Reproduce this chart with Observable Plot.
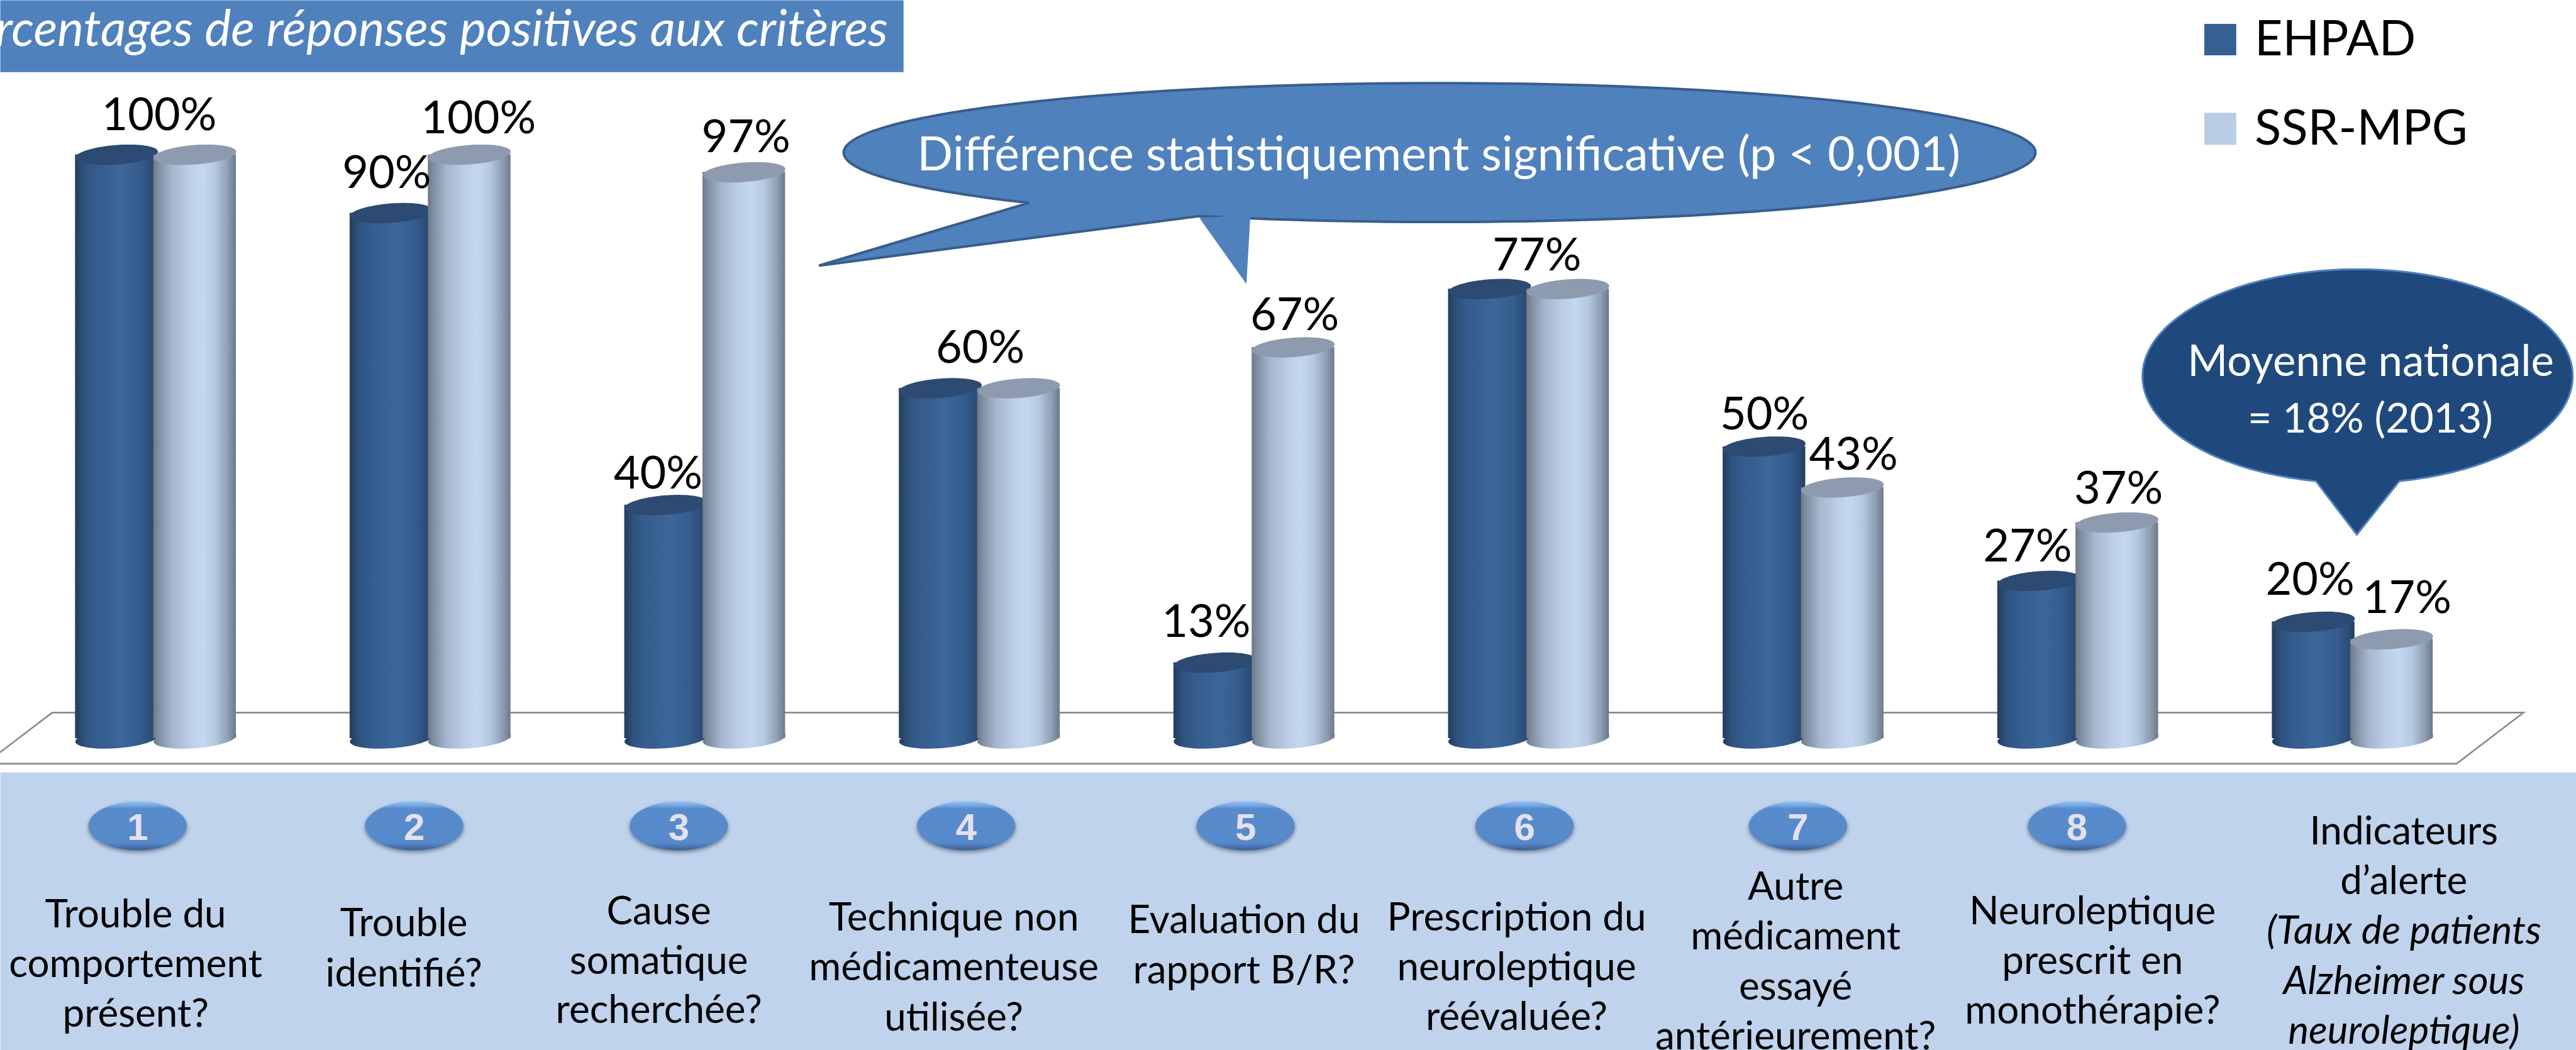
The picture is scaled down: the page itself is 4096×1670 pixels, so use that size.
<!DOCTYPE html>
<html lang="fr"><head><meta charset="utf-8">
<script src="https://cdn.jsdelivr.net/npm/d3@7"></script>
<script src="https://cdn.jsdelivr.net/npm/@observablehq/plot@0.6"></script>
<style>html,body{margin:0;padding:0;background:#fff;overflow:hidden}svg{display:block}</style>
</head><body><script>
// ---- data ----
const groups = [0,1,2,3,4,5,6,7,8];
const ehpad = [100,90,40,60,13,77,50,27,20];
const ssr   = [100,100,97,60,67,77,43,37,17];
const badges = ["1","2","3","4","5","6","7","8"];
const criteria = [
  ["Trouble du","comportement","présent?"],
  ["Trouble","identifié?"],
  ["Cause","somatique","recherchée?"],
  ["Technique non","médicamenteuse","utilisée?"],
  ["Evaluation du","rapport B/R?"],
  ["Prescription du","neuroleptique","réévaluée?"],
  ["Autre","médicament","essayé","antérieurement?"],
  ["Neuroleptique","prescrit en","monothérapie?"],
  ["Indicateurs","d’alerte","(Taux de patients","Alzheimer sous","neuroleptique)"]
];
const title = "Pourcentages de réponses positives aux critères";
const seriesNames = ["EHPAD","SSR-MPG"];
const note1 = "Différence statistiquement significative (p < 0,001)";
const note2 = ["Moyenne nationale","= 18% (2013)"];

// ---- layout, in reference pixels ----
const W = 4096, H = 1670, k = W / 6454;
const STEP = 688, X0 = 385, Y0 = 1850, Y100 = 387;
const span = {ehpad:[-197/STEP, 10/STEP], ssr:[-1/STEP, 206/STEP]};
const mid = s => (span[s][0] + span[s][1]) / 2;
const labelFont = 'Lato, "Open Sans", sans-serif';
// [group, series, label centre x, baseline offset from the cap centre]
const valueLabels = [
  [0,"ehpad",398,-61],[1,"ehpad",968,-63],[1,"ssr",1198,-53],[2,"ehpad",1648,-42],[2,"ssr",1868,-50],
  [3,"ehpad",2455,-64],[4,"ehpad",3021,-65],[4,"ssr",3243,-43],[5,"ehpad",3850,-46],
  [6,"ehpad",4420,-43],[6,"ssr",4643,-44],[7,"ehpad",5079,-49],[7,"ssr",5307,-48],[8,"ehpad",5787,-68],[8,"ssr",6030,-66]
];
const badgeX = [344,1037,1700,2420,3120,3819,4504,5203];
const criteriaAt = [
  [339,[2323,2448,2573]],[1011,[2346,2471]],[1650,[2315,2440,2563]],[2389,[2331,2456,2581]],
  [3116,[2337,2463]],[3799,[2331,2455,2580]],[4498,[2254,2379,2504,2629]],[5242,[2315,2440,2564]],
  [6022,[2115,2240,2365,2490,2615]]
];

// ---- shape helpers ----
function ellipsePts(cx, cy, rx, ry, t0 = 0, t1 = 360, n = 180, tilt = 0) {
  const c = Math.cos(tilt), s = Math.sin(tilt);
  return d3.range(n + 1).map(i => {
    const t = (t0 + (t1 - t0) * i / n) * Math.PI / 180;
    const ex = rx * Math.cos(t), ey = ry * Math.sin(t);
    return [cx + ex * c - ey * s, cy + ex * s + ey * c];
  });
}
const polySymbol = (pts, closed = true) => ({draw(ctx) {
  pts.forEach(([x, y], i) => i ? ctx.lineTo(x * k, y * k) : ctx.moveTo(x * k, y * k));
  if (closed) ctx.closePath();
}});
const shape = (pts, o = {}, closed = true) =>
  Plot.dot([0], {frameAnchor: "top-left", symbol: polySymbol(pts, closed), r: 1, ...o});
const txt = (s, x, y, size, o = {}) =>
  Plot.text([s], {text: d => d, frameAnchor: "top-left", dx: x * k, dy: y * k, lineAnchor: "bottom",
    textAnchor: "middle", fontSize: size, fontFamily: labelFont, fill: "#000", ...o});
const capSymbol = polySymbol(ellipsePts(0, 0, 103.8, 24.3, 0, 360, 72, -4.4 * Math.PI / 180));

function cylinders(values, s, dark) {
  const rows = groups.map(i => ({i, v: values[i]}));
  const grad = `url(#${s})`, cap = dark ? "#2c4a72" : "#8e9bae";
  return [
    Plot.dot(rows, {x: d => d.i + mid(s), y: () => 0, symbol: capSymbol, fill: grad, r: 1}),
    Plot.rect(rows, {x1: d => d.i + span[s][0], x2: d => d.i + span[s][1], y1: () => 0, y2: "v", fill: grad}),
    Plot.dot(rows, {x: d => d.i + mid(s), y: "v", symbol: capSymbol, fill: cap, r: 1})
  ];
}

function defs() {
  const d = d3.create("svg:defs");
  const grad = (id, stops, vertical) => {
    const g = d.append("linearGradient").attr("id", id);
    if (vertical) g.attr("x2", 0).attr("y2", 1);
    stops.forEach(([o, c]) => g.append("stop").attr("offset", o).attr("stop-color", c));
  };
  grad("ehpad", [[0,"#223c5f"],[.12,"#2f547f"],[.25,"#345c8d"],[.55,"#3d6699"],[.78,"#355e8f"],[.93,"#2b4c77"],[1,"#223d62"]]);
  grad("ssr", [[0,"#6b7888"],[.05,"#7c8a9c"],[.22,"#a3b6cd"],[.45,"#bccfe6"],[.6,"#c3d7f0"],[.75,"#b4c8e0"],[.9,"#8f9fb4"],[1,"#6c7989"]]);
  grad("badge", [[0,"#8fc1fa"],[.07,"#79aae9"],[.15,"#588bcc"],[.84,"#578acb"],[.95,"#466fab"],[1,"#35608f"]], true);
  return d.node();
}

const chart = Plot.plot({
  width: W, height: H, margin: 0,
  style: {background: "#fff", overflow: "hidden"},
  x: {domain: [0, 8], range: [X0 * k, (X0 + 8 * STEP) * k], axis: null},
  y: {domain: [0, 100], range: [Y0 * k, Y100 * k], axis: null},
  marks: [
    defs,
    // floor
    shape([[130,1785],[6322,1785],[6154,1913],[-38,1913]], {fill: "#fff", stroke: "#8c8c8c", strokeWidth: 2.6}),
    // cylinders
    ...cylinders(ehpad, "ehpad", true),
    ...cylinders(ssr, "ssr", false),
    // value labels
    ...valueLabels.map(([g, s, cx, off]) => {
      const v = (s === "ehpad" ? ehpad : ssr)[g];
      return Plot.text([v], {x: () => g, y: d => d, text: d => d + "%", dx: (cx - (X0 + g * STEP)) * k, dy: off * k,
        lineAnchor: "bottom", fontSize: 72, fontFamily: labelFont, fill: "#000"});
    }),
    // title banner
    shape([[0,0],[2263,0],[2263,180],[0,180]], {fill: "#4f81bd"}),
    txt(title, 2224, 115, 79, {textAnchor: "end", fill: "#fff", fontStyle: "italic"}),
    // legend
    shape([[5522,59],[5602,59],[5602,138],[5522,138]], {fill: "#376092"}),
    shape([[5522,282],[5602,282],[5602,362],[5522,362]], {fill: "#b9cde5"}),
    txt(seriesNames[0], 5648, 138, 77, {textAnchor: "start"}),
    txt(seriesNames[1], 5648, 362, 78, {textAnchor: "start"}),
    // callout 1
    shape([...ellipsePts(3606, 381.5, 1493, 174, 133.6, 473.8), [2051,665]],
      {fill: "#4f81bd", stroke: "#385d8a", strokeWidth: 4}),
    shape([[3004,545],[3122,711],[3132,538]], {fill: "#4f81bd"}),
    txt(note1, 3604, 427, 75, {fill: "#fff"}),
    // callout 2
    shape([...ellipsePts(5906, 942, 539, 268, 101.2, 438.8), [5904,1339]],
      {fill: "#1f497d", stroke: "#4f81bd", strokeWidth: 3}),
    txt(note2[0], 5939, 942, 69, {fill: "#fff"}),
    txt(note2[1], 5938, 1083, 66, {fill: "#fff"}),
    // bottom band
    shape([[0,1935],[6454,1935],[6454,2631],[0,2631]], {fill: "#bfd3ec"}),
    // badges
    ...badges.map((b, i) => shape(ellipsePts(badgeX[i], 2069, 123, 61), {fill: "url(#badge)", imageFilter: "drop-shadow(0 3px 3px rgba(40,50,70,.55))"})),
    ...badges.map((b, i) => txt(b, badgeX[i], 2105, 60, {fontFamily: '"Liberation Sans", Arial, sans-serif', fontWeight: "bold", fill: "#e4e0ed"})),
    // criteria text
    ...criteria.flatMap((lines, g) => lines.map((line, j) =>
      txt(line, criteriaAt[g][0], criteriaAt[g][1][j], 62, g === 8 && j >= 2 ? {fontStyle: "italic"} : {})))
  ]
});
document.body.appendChild(chart);
</script></body></html>
